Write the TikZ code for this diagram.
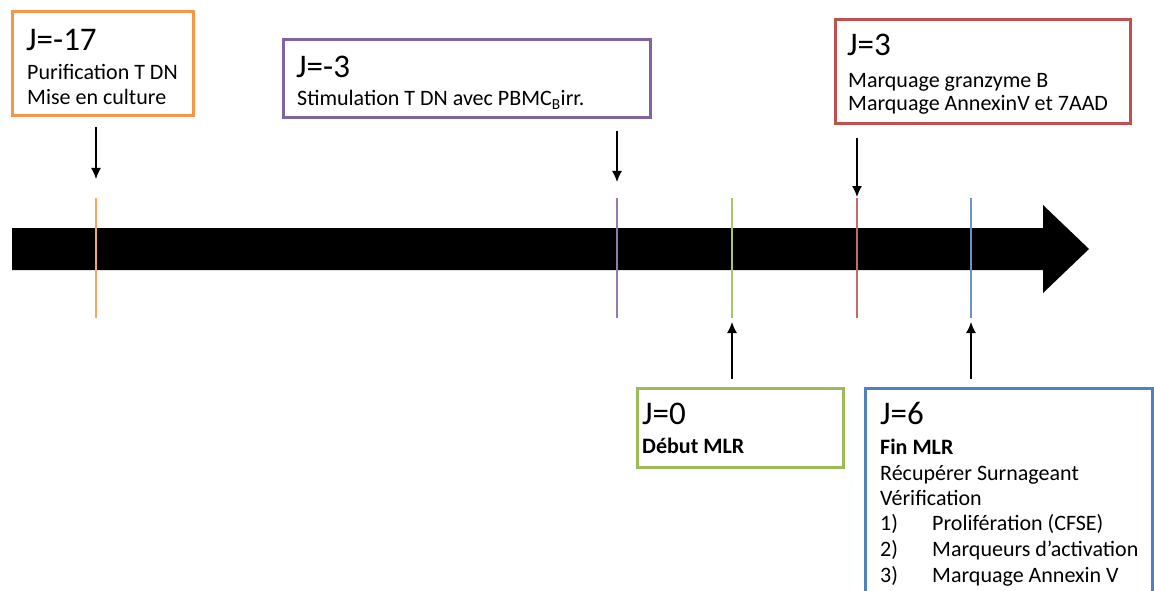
\documentclass[tikz,border=0pt]{standalone}
\usepackage{fontspec}
\setmainfont{Carlito}
\usetikzlibrary{arrows.meta}

\begin{document}
\begin{tikzpicture}[x=1pt,y=-1pt]
    % Colors
    \definecolor{jorange}{HTML}{F79646}
    \definecolor{jpurple}{HTML}{8064A2}
    \definecolor{jgreen}{HTML}{9BBB59}
    \definecolor{jred}{HTML}{C0504D}
    \definecolor{jblue}{HTML}{4F81BD}

    % Styles
    \tikzstyle{date box} = [draw, line width=3pt, fill=white, inner sep=0pt]
    \tikzstyle{day text} = [anchor=base west, inner sep=0pt, font=\fontsize{33}{38}\selectfont]
    \tikzstyle{info text} = [anchor=base west, inner sep=0pt, font=\fontsize{22}{26}\selectfont]
    \tikzstyle{pointer} = [-{Latex[length=11pt,width=10pt]}, line width=1.3pt]
    \tikzstyle{tick line} = [line width=1.5pt]

    \useasboundingbox (0,0) rectangle (1154,591);

    %%% Time axis
    \fill (12,228) -- (1043,228) -- (1043,205) -- (1089,249) -- (1043,293)
        -- (1043,270) -- (12,270) -- cycle;

    \foreach \x / \c / \n in {96/jorange/jm17, 617/jpurple/jm3, 732/jgreen/j0, 857/jred/j3, 971/jblue/j6}
    {
        \draw[tick line, \c!85!white] (\x,198) coordinate (\n-top) -- (\x,318) coordinate (\n-bottom);
    }
    %%%

    %%% Boxes above the axis
    % J=-17
    \node[date box, draw=jorange, minimum width=181pt, minimum height=103.5pt] (jm17) at (103,63.75) {};
    \node[day text] (jm17 day) at (26,51) {J=-17};
    \node[info text] (jm17 info1) at (27,80) {Purification T DN};
    \node[info text] (jm17 info2) at (27,105) {Mise en culture};

    % J=-3
    \node[date box, draw=jpurple, minimum width=367pt, minimum height=78pt] (jm3) at (466.5,79) {};
    \node[day text] (jm3 day) at (296,78) {J=-3};
    \node[info text] (jm3 info1) at (297,106) {Stimulation T DN avec PBMC\textsubscript{B}irr.};

    % J=3
    \node[date box, draw=jred, minimum width=295pt, minimum height=104pt] (j3) at (982.5,72) {};
    \node[day text] (j3 day) at (847,56) {J=3};
    \node[info text] (j3 info1) at (848,88) {Marquage granzyme B};
    \node[info text] (j3 info2) at (848,111) {Marquage AnnexinV et 7AAD};
    %%%

    %%% Boxes below the axis
    % J=0
    \node[date box, draw=jgreen, minimum width=206pt, minimum height=79pt] (j0) at (740,427.5) {};
    \node[day text] (j0 day) at (642,424) {J=0};
    \node[info text, font=\fontsize{22}{26}\selectfont\bfseries] (j0 info1) at (642,453) {Début MLR};

    % J=6
    \node[date box, draw=jblue, minimum width=287pt, minimum height=232pt] (j6) at (1008.5,504) {};
    \node[day text] (j6 day) at (880,424) {J=6};
    \node[info text, font=\fontsize{22}{26}\selectfont\bfseries] (j6 info1) at (880,454) {Fin MLR};
    \node[info text] (j6 info2) at (880,480) {Récupérer Surnageant};
    \node[info text] (j6 info3) at (880,505) {Vérification};
    \foreach \i / \y / \t in {1/530/{Prolifération (CFSE)}, 2/556/{Marqueurs d’activation}, 3/582/{Marquage Annexin V}}
    {
        \node[info text] (j6 num\i) at (880,\y) {\i)};
        \node[info text] (j6 item\i) at (932,\y) {\t};
    }
    %%%

    %%% Pointers
    \draw[pointer, shorten <=10pt, shorten >=19pt] (jm17.south -| jm17-top) -- (jm17-top);
    \draw[pointer, shorten <=12pt, shorten >=16pt] (jm3.south -| jm3-top) -- (jm3-top);
    \draw[pointer, shorten <=13pt, shorten >=1pt] (j3.south -| j3-top) -- (j3-top);
    \draw[pointer, shorten <=8pt, shorten >=4pt] (j0.north -| j0-bottom) -- (j0-bottom);
    \draw[pointer, shorten <=8pt, shorten >=4pt] (j6.north -| j6-bottom) -- (j6-bottom);
    %%%
\end{tikzpicture}
\end{document}
